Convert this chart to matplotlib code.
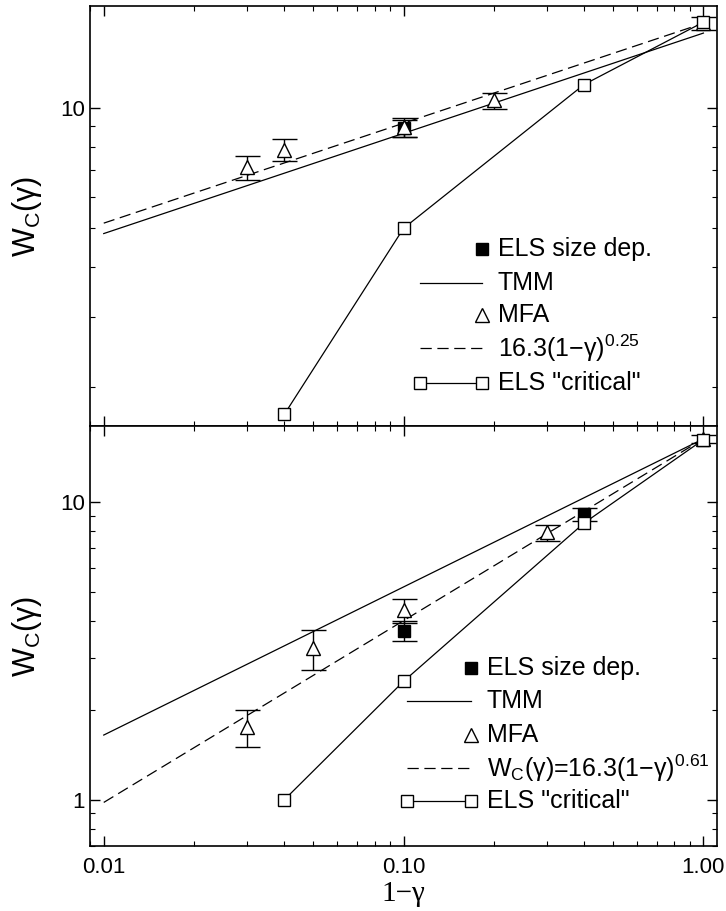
import numpy as np
import matplotlib
matplotlib.use("Agg")
import matplotlib.pyplot as plt
from matplotlib.ticker import LogLocator, FixedLocator, FixedFormatter, NullFormatter

plt.rcParams['font.family'] = ['Liberation Sans', 'DejaVu Sans']
plt.rcParams['mathtext.fontset'] = 'custom'
plt.rcParams['mathtext.rm'] = 'Liberation Sans'
plt.rcParams['mathtext.it'] = 'Liberation Sans:italic'

# top panel data
tmm_x_top = [0.01, 1.0]
tmm_w_top = [4.85, 15.4]
fit_x_top = [0.01, 1.0]
fit_w_top = [5.15, 16.3]
mfa_x_top = [0.03, 0.04, 0.1, 0.2, 1.0]
mfa_w_top = [7.1, 7.85, 8.95, 10.45, 16.3]
mfa_e_top = [0.5, 0.5, 0.5, 0.48, 0.6]
els_x_top = [0.1]
els_w_top = [8.9]
els_e_top = [0.45]
crit_x_top = [0.04, 0.1, 0.4, 1.0]
crit_w_top = [1.71, 5.0, 11.45, 16.4]

# bottom panel data
tmm_x_bot = [0.01, 1.0]
tmm_w_bot = [1.65, 16.3]
fit_x_bot = [0.01, 1.0]
fit_w_bot = [0.98, 16.3]
mfa_x_bot = [0.03, 0.05, 0.1, 0.3, 1.0]
mfa_w_bot = [1.75, 3.23, 4.33, 7.9, 16.3]
mfa_e_bot = [0.25, 0.5, 0.4, 0.5, 0.5]
els_x_bot = [0.1, 0.4]
els_w_bot = [3.7, 9.1]
els_e_bot = [0.28, 0.45]
crit_x_bot = [0.04, 0.1, 0.4, 1.0]
crit_w_bot = [1.0, 2.5, 8.5, 16.2]

fig = plt.figure(figsize=(7.26, 9.11), dpi=100)
ax1 = fig.add_axes([0.124, 0.5324, 0.8636, 0.461])
ax2 = fig.add_axes([0.124, 0.0714, 0.8636, 0.461])

lw = 0.9
dash = (9, 4.5)
def draw(ax, tx, tw, fx, fw, mx, mw, me, ex, ew, ee, cx, cw):
    ax.plot(tx, tw, color='black', lw=lw, zorder=2)
    ax.plot(fx, fw, color='black', lw=lw, dashes=dash, zorder=2)
    ax.errorbar(ex, ew, yerr=ee, fmt='s', ms=8, mfc='black', mec='black',
                ecolor='black', elinewidth=1, capsize=9, capthick=1, zorder=3)
    ax.errorbar(mx, mw, yerr=me, fmt='^', ms=9.5, mfc='white', mec='black', mew=1,
                ecolor='black', elinewidth=1, capsize=9, capthick=1, zorder=4)
    ax.plot(cx, cw, color='black', lw=lw, marker='s', ms=8, mfc='white',
            mec='black', mew=1, zorder=5)

draw(ax1, tmm_x_top, tmm_w_top, fit_x_top, fit_w_top, mfa_x_top, mfa_w_top, mfa_e_top,
     els_x_top, els_w_top, els_e_top, crit_x_top, crit_w_top)
draw(ax2, tmm_x_bot, tmm_w_bot, fit_x_bot, fit_w_bot, mfa_x_bot, mfa_w_bot, mfa_e_bot,
     els_x_bot, els_w_bot, els_e_bot, crit_x_bot, crit_w_bot)

for ax in (ax1, ax2):
    ax.set_xscale('log')
    ax.set_yscale('log')
    ax.set_xlim(0.009, 1.11)
    ax.tick_params(which='both', direction='in', top=True, right=True, labelsize=16)
    ax.tick_params(which='major', length=7, width=1)
    ax.tick_params(which='minor', length=3.5, width=0.8)
    for s in ax.spines.values():
        s.set_linewidth(1.2)
    ax.xaxis.set_major_locator(FixedLocator([0.01, 0.1, 1.0]))
    ax.xaxis.set_minor_locator(LogLocator(base=10, subs=np.arange(2, 10)))
    ax.yaxis.set_minor_locator(LogLocator(base=10, subs=np.arange(2, 10)))
    ax.yaxis.set_minor_formatter(NullFormatter())
    ax.xaxis.set_minor_formatter(NullFormatter())
    ax.set_ylabel('W$_{\\rm C}$(γ)', fontsize=22, labelpad=12)

ax1.set_ylim(1.6, 18)
ax2.set_ylim(0.7, 18)
ax1.yaxis.set_major_locator(FixedLocator([10]))
ax1.yaxis.set_major_formatter(FixedFormatter(['10']))
ax2.yaxis.set_major_locator(FixedLocator([1, 10]))
ax2.yaxis.set_major_formatter(FixedFormatter(['1', '10']))
ax1.xaxis.set_major_formatter(NullFormatter())
ax2.xaxis.set_major_formatter(FixedFormatter(['0.01', '0.10', '1.00']))
ax2.tick_params(axis='x', pad=8)
ax2.set_xlabel('1−γ', fontsize=21, family='Liberation Serif', labelpad=2)

# hand-built legends in axes coordinates
def legend(ax, x0, x1, xt, rows, fitlabel):
    t = ax.transAxes
    kw = dict(transform=t, clip_on=False)
    labels = ['ELS size dep.', 'TMM', 'MFA', fitlabel, 'ELS "critical"']
    ax.plot([x1], [rows[0]], 's', ms=8, color='black', **kw)
    ax.plot([x0, x1], [rows[1]] * 2, color='black', lw=lw, **kw)
    ax.plot([x1], [rows[2]], '^', ms=9.5, mfc='white', mec='black', **kw)
    ax.plot([x0, x1], [rows[3]] * 2, color='black', lw=lw, dashes=dash, **kw)
    ax.plot([x0, x1], [rows[4]] * 2, color='black', lw=lw, marker='s', ms=8,
            mfc='white', mec='black', **kw)
    for y, lab in zip(rows, labels):
        ax.text(xt, y, lab, transform=t, fontsize=18, va='center', ha='left')

legend(ax1, 0.526, 0.625, 0.650, [0.421, 0.341, 0.264, 0.185, 0.103],
       '16.3(1−γ)$^{0.25}$')
legend(ax2, 0.506, 0.608, 0.633, [0.423, 0.344, 0.264, 0.186, 0.107],
       'W$_{\\rm C}$(γ)=16.3(1−γ)$^{0.61}$')

fig.savefig('out.png', dpi=100)
